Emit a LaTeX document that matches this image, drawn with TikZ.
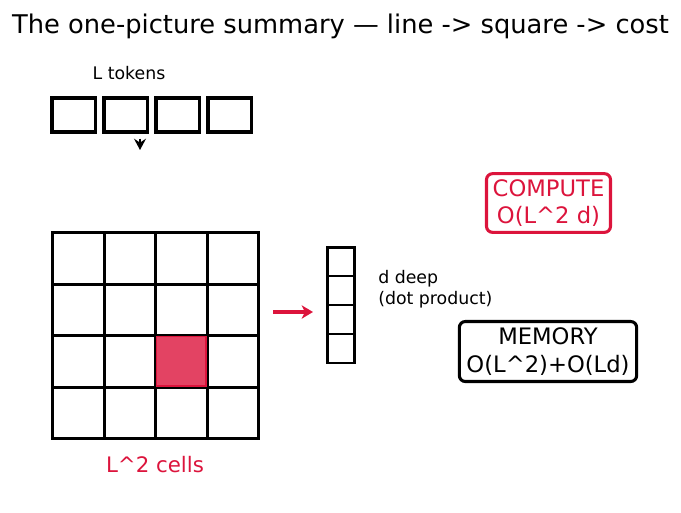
\documentclass[tikz,border=0pt]{standalone}
\usepackage{fontspec}
\setmainfont{DejaVu Sans}
\usetikzlibrary{arrows.meta}
\definecolor{crim}{HTML}{DC143C}
\tikzset{
titletext/.style=
    {font=\fontsize{19.3}{23}\selectfont,
    inner sep=0pt
    },
smalltext/.style=
    {font=\fontsize{13}{15.5}\selectfont,
    inner sep=0pt
    },
tokbox/.style=
    {draw=black,
    line width=2.3pt,
    minimum width=32.3pt,
    minimum height=25.5pt,
    inner sep=0pt
    },
gridcell/.style=
    {draw=black,
    line width=2.3pt,
    minimum size=38.6pt,
    inner sep=0pt
    },
hicell/.style=
    {fill=crim,
    fill opacity=0.8,
    draw=crim,
    line width=1pt,
    minimum size=37pt,
    inner sep=0pt
    },
veccell/.style=
    {draw=black,
    line width=1.9pt,
    minimum width=20.6pt,
    minimum height=21.7pt,
    inner sep=0pt
    },
costbox/.style=
    {rectangle,rounded corners=4.5pt,
    line width=2.3pt,
    align=center,
    inner sep=0pt,
    font=\fontsize{17}{20.4}\selectfont
    },
downarrow/.style=
    {line width=2.2pt,
    -{Stealth[length=8.5pt,width=9pt,inset=3pt]}
    },
redarrow/.style=
    {draw=crim,
    line width=3pt,
    -{Stealth[length=8.5pt,width=10pt,inset=2.5pt]}
    }}

\begin{document}
\begin{tikzpicture}[x=0.75pt,y=-0.75pt]
\useasboundingbox (0,0) rectangle (681,512);

\node[titletext] (title) at (340.5,26) {The one-picture summary — line -> square -> cost};

\node[smalltext] (toklabel) at (129,73) {L tokens};
\foreach \i in {1,...,4}
    \node[tokbox] (tok\i) at ({21.5+52*\i},115) {};
\coordinate (dnA) at (140,138.5);
\coordinate (dnB) at (140,150);
\draw[downarrow] (dnA) -- (dnB);

\foreach \r in {0,...,3}
    \foreach \c in {0,...,3}
        \node[gridcell] (cell-\r-\c) at ({78.3+51.5*\c},{258.3+51.5*\r}) {};
\node[hicell] (hi) at (cell-2-2) {};
\node[smalltext,text=crim,font=\fontsize{16}{19}\selectfont] (celllabel) at (155,465) {L\textasciicircum{}2 cells};

\coordinate (rA) at (273,312);
\coordinate (rB) at (313,312);
\draw[redarrow] (rA) -- (rB);

\foreach \k in {1,...,4}
    \node[veccell] (vec\k) at (341,{232.8+28.9*\k}) {};
\node[smalltext,anchor=west,align=left] (veclabel) at (378,289) {d deep\\(dot product)};

\node[costbox,draw=crim,text=crim,minimum width=93pt,minimum height=44pt] (compute) at (548.5,203) {COMPUTE\\O(L\textasciicircum{}2 d)};
\node[costbox,draw=black,minimum width=133pt,minimum height=45pt] (memory) at (548,351.5) {MEMORY\\O(L\textasciicircum{}2)+O(Ld)};

\end{tikzpicture}
\end{document}
